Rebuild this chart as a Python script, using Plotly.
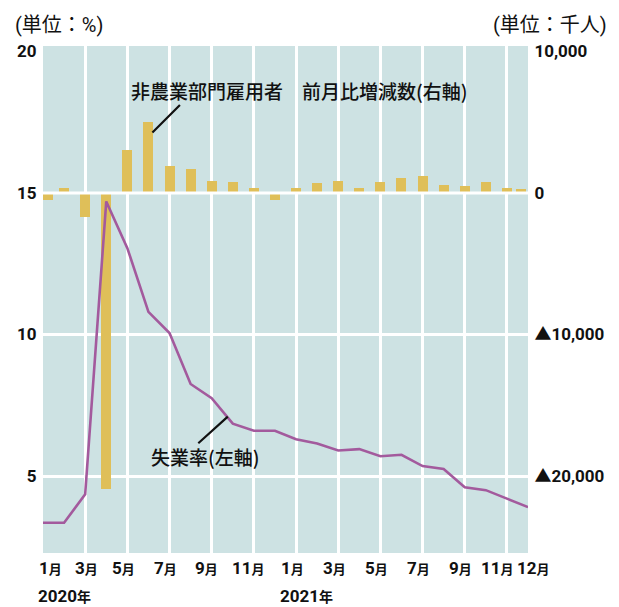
import plotly.graph_objects as go

# ---------------- data ----------------
month_index = list(range(24))  # Jan 2020 .. Dec 2021
unemployment_rate = [3.35, 3.35, 4.35, 14.7, 13.05, 10.8, 10.05, 8.25, 7.75, 6.85, 6.6, 6.6,
                     6.3, 6.15, 5.9, 5.95, 5.7, 5.75, 5.35, 5.25, 4.6, 4.5, 4.2, 3.9]
payroll_change = [-500, 380, -1720, -20900, 3060, 5040, 1930, 1720, 870, 800, 380, -470,
                  380, 730, 870, 380, 800, 1080, 1220, 590, 520, 800, 380, 300]
month_tick_idx = [0, 2, 4, 6, 8, 10, 12, 14, 16, 18, 20, 22, 23]
month_tick_num = ["1", "3", "5", "7", "9", "11", "1", "3", "5", "7", "9", "11", "12"]
year_idx = [0, 12]
year_text = ["2020", "2021"]
left_tickvals = [20, 15, 10, 5]
right_tickvals = [10000, 0, -10000, -20000]
right_ticktext = ["10,000", "0", "▲10,000", "▲20,000"]

# ---------------- style ----------------
BG = "#cde2e3"
BAR = "#dfbf59"
LINE = "#a35a9d"
TXT = "#111111"
NUM_FONT = "Roboto, Noto Sans CJK JP"
JP_FONT = "Noto Sans CJK JP, Roboto"

L_RANGE = [2.28, 20.19]
RATIO = 2000  # thousands per percentage point
R_RANGE = [(L_RANGE[0] - 15) * RATIO, (L_RANGE[1] - 15) * RATIO]

bar_w = 0.474
offsets = [-bar_w / 2] * len(month_index)
offsets[0] = 0.0
offsets[-1] = -0.57

fig = go.Figure()
fig.add_trace(go.Bar(
    x=month_index, y=payroll_change, yaxis="y",
    width=bar_w, offset=offsets,
    marker=dict(color=BAR, line=dict(width=0)),
    hoverinfo="skip", showlegend=False,
))
fig.add_trace(go.Scatter(
    x=month_index, y=unemployment_rate, yaxis="y2", mode="lines",
    line=dict(color=LINE, width=2.6),
    hoverinfo="skip", showlegend=False,
))

annotations = []
# month tick labels
label_shift = [7, 1, -4, -4, -5, -5, -4, -4, -4, -4, -4, -9, 5]
for i, (xi, num) in enumerate(zip(month_tick_idx, month_tick_num)):
    annotations.append(dict(
        x=xi, xref="x", y=0, yref="paper", yanchor="middle", xanchor="center",
        xshift=label_shift[i], yshift=-15, showarrow=False,
        text=f"<b>{num}</b><span style='font-size:13px'><b>月</b></span>",
        font=dict(family=NUM_FONT, size=17, color=TXT),
    ))
# year labels
year_shift = [-6, -17]
for i, (xi, yt) in enumerate(zip(year_idx, year_text)):
    annotations.append(dict(
        x=xi, xref="x", y=0, yref="paper", yanchor="bottom", xanchor="left",
        xshift=year_shift[i], yshift=-54, showarrow=False, borderpad=0,
        text=f"<b>{yt}</b><span style='font-size:14px'><b>年</b></span>",
        font=dict(family=NUM_FONT, size=17, color=TXT),
    ))
# unit titles
annotations.append(dict(
    x=0, xref="paper", y=1, yref="paper", xanchor="left", yanchor="middle",
    xshift=-30, yshift=21, showarrow=False, text="(単位：%)",
    font=dict(family=NUM_FONT, size=20, color=TXT),
))
annotations.append(dict(
    x=1, xref="paper", y=1, yref="paper", xanchor="right", yanchor="middle",
    xshift=81, yshift=21, showarrow=False, text="(単位：千人)",
    font=dict(family=NUM_FONT, size=20, color=TXT),
))
# series labels
annotations.append(dict(
    x=0.5, xref="paper", y=1, yref="paper", xanchor="center", yanchor="middle",
    xshift=14, yshift=-44, showarrow=False,
    text="非農業部門雇用者　前月比増減数(右軸)",
    font=dict(family=JP_FONT, size=19, color=TXT, weight=500),
))
annotations.append(dict(
    x=month_index[5], xref="x", y=payroll_change[5], yref="y",
    xshift=4, yshift=-11, ax=29, ay=-29, axref="pixel", ayref="pixel",
    showarrow=True, arrowhead=0, arrowwidth=2.2, arrowcolor=TXT, text="",
))
annotations.append(dict(
    x=month_index[9], xref="x", y=unemployment_rate[9], yref="y2",
    xshift=-27, yshift=-33, showarrow=False, text="失業率(左軸)",
    xanchor="center", yanchor="middle",
    font=dict(family=JP_FONT, size=19, color=TXT, weight=500),
))
annotations.append(dict(
    x=month_index[9], xref="x", y=unemployment_rate[9], yref="y2",
    xshift=-5, yshift=7, ax=-31, ay=28, axref="pixel", ayref="pixel",
    showarrow=True, arrowhead=0, arrowwidth=2.2, arrowcolor=TXT, text="",
))

fig.update_layout(
    width=619, height=607,
    margin=dict(l=43, r=91, t=46, b=54),
    paper_bgcolor="white", plot_bgcolor=BG,
    bargap=0, showlegend=False,
    xaxis=dict(
        range=[0, 23], tickvals=month_tick_idx, showticklabels=False,
        showgrid=True, gridcolor="white", gridwidth=3, zeroline=False,
        showline=False, ticks="", fixedrange=True,
    ),
    yaxis=dict(
        side="right", range=R_RANGE, tickvals=right_tickvals, ticktext=right_ticktext,
        showgrid=False, zeroline=False, showline=False,
        ticks="outside", ticklen=2, tickcolor="rgba(0,0,0,0)",
        tickfont=dict(family=NUM_FONT, size=17, color=TXT, weight="bold"),
        minor=dict(tickvals=right_tickvals[2:], showgrid=True, gridcolor="white", gridwidth=3),
    ),
    yaxis2=dict(
        overlaying="y", side="left", range=L_RANGE, tickvals=left_tickvals,
        showgrid=False, zeroline=False, showline=False,
        ticks="outside", ticklen=2, tickcolor="rgba(0,0,0,0)",
        tickfont=dict(family=NUM_FONT, size=17, color=TXT, weight="bold"),
    ),
    shapes=[dict(
        type="line", xref="paper", x0=0, x1=1, yref="y", y0=0, y1=0,
        line=dict(color="white", width=3), layer="above",
    )],
    annotations=annotations,
)

fig.write_html("out.html")
